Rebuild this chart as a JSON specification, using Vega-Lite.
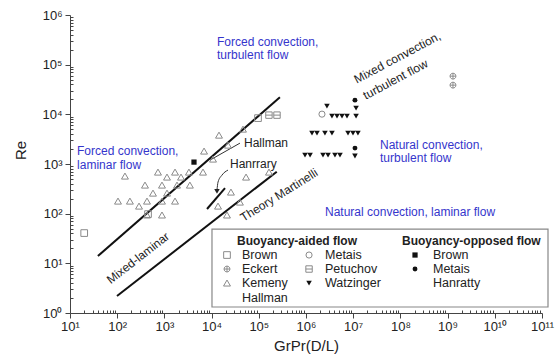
{
  "$schema": "https://vega.github.io/schema/vega-lite/v6.json",
  "width": 472,
  "height": 298,
  "autosize": {"type": "none"},
  "padding": {"left": 70, "top": 15, "right": 15, "bottom": 46},
  "background": "white",
  "config": {
    "view": {"stroke": null},
    "font": "Liberation Sans",
    "text": {"font": "Liberation Sans"}
  },
  "datasets": {
    "pts": [
      {"s": "Kemeny", "x": 146, "y": 571}, {"s": "Kemeny", "x": 731, "y": 687}, {"s": "Kemeny", "x": 1679, "y": 687},
      {"s": "Kemeny", "x": 3311, "y": 687}, {"s": "Kemeny", "x": 6577, "y": 687}, {"s": "Kemeny", "x": 6918, "y": 1820},
      {"s": "Kemeny", "x": 1135, "y": 545}, {"s": "Kemeny", "x": 2250, "y": 545}, {"s": "Kemeny", "x": 388, "y": 376},
      {"s": "Kemeny", "x": 889, "y": 376}, {"s": "Kemeny", "x": 1850, "y": 376}, {"s": "Kemeny", "x": 3467, "y": 376},
      {"s": "Kemeny", "x": 573, "y": 259}, {"s": "Kemeny", "x": 1135, "y": 259}, {"s": "Kemeny", "x": 104, "y": 179},
      {"s": "Kemeny", "x": 186, "y": 179}, {"s": "Kemeny", "x": 290, "y": 142}, {"s": "Kemeny", "x": 428, "y": 179},
      {"s": "Kemeny", "x": 889, "y": 179}, {"s": "Kemeny", "x": 1679, "y": 179}, {"s": "Kemeny", "x": 889, "y": 94},
      {"s": "Kemeny", "x": 428, "y": 94}, {"s": "Kemeny", "x": 14350, "y": 3811}, {"s": "Kemeny", "x": 22230, "y": 2399},
      {"s": "Kemeny", "x": 10720, "y": 1256}, {"s": "Kemeny", "x": 46240, "y": 5035}, {"s": "Kemeny", "x": 53700, "y": 545},
      {"s": "Kemeny", "x": 25700, "y": 272}, {"s": "Kemeny", "x": 13680, "y": 142}, {"s": "Kemeny", "x": 39810, "y": 171},
      {"s": "Kemeny", "x": 21180, "y": 94}, {"s": "Kemeny", "x": 164400, "y": 687},
      {"s": "Brown (aided)", "x": 20, "y": 40.7}, {"s": "Brown (aided)", "x": 450, "y": 98}, {"s": "Brown (aided)", "x": 96200, "y": 8390},
      {"s": "Petuchov", "x": 164000, "y": 9640}, {"s": "Petuchov", "x": 243000, "y": 9640},
      {"s": "Metais (aided)", "x": 2180000, "y": 10090},
      {"s": "Eckert", "x": 1300000000, "y": 58700}, {"s": "Eckert", "x": 1300000000, "y": 38700},
      {"s": "Brown (opposed)", "x": 4236, "y": 1092},
      {"s": "Metais (opposed)", "x": 10900000, "y": 19300}, {"s": "Metais (opposed)", "x": 10900000, "y": 2090},
      {"s": "Watzinger", "x": 2780000, "y": 14620},
      {"s": "Watzinger", "x": 3550000, "y": 9200}, {"s": "Watzinger", "x": 4540000, "y": 9200}, {"s": "Watzinger", "x": 5790000, "y": 9200},
      {"s": "Watzinger", "x": 7390000, "y": 9200}, {"s": "Watzinger", "x": 11500000, "y": 9200}, {"s": "Watzinger", "x": 11500000, "y": 13330},
      {"s": "Watzinger", "x": 1340000, "y": 4190}, {"s": "Watzinger", "x": 1710000, "y": 4190}, {"s": "Watzinger", "x": 2520000, "y": 4190},
      {"s": "Watzinger", "x": 3550000, "y": 4190}, {"s": "Watzinger", "x": 7760000, "y": 4190}, {"s": "Watzinger", "x": 9900000, "y": 4190},
      {"s": "Watzinger", "x": 12600000, "y": 4190},
      {"s": "Watzinger", "x": 953000, "y": 1510}, {"s": "Watzinger", "x": 1220000, "y": 1510}, {"s": "Watzinger", "x": 2290000, "y": 1510},
      {"s": "Watzinger", "x": 2930000, "y": 1510}, {"s": "Watzinger", "x": 4110000, "y": 1510}, {"s": "Watzinger", "x": 5250000, "y": 1510},
      {"s": "Watzinger", "x": 10900000, "y": 1450}
    ],
    "thick": [
      {"line": "upper", "x": 39, "y": 14}, {"line": "upper", "x": 280000, "y": 22000},
      {"line": "lower", "x": 99, "y": 2.2}, {"line": "lower", "x": 240000, "y": 700},
      {"line": "hanratty", "x": 8000, "y": 124}, {"line": "hanratty", "x": 19240, "y": 327}
    ],
    "thin": [
      {"line": "hallman", "x": 9250, "y": 1197}, {"line": "hallman", "x": 39900, "y": 2632},
      {"line": "arrow", "x": 22230, "y": 754}, {"line": "arrow", "x": 16600, "y": 598},
      {"line": "arrow", "x": 13680, "y": 432}, {"line": "arrow", "x": 13000, "y": 298}
    ],
    "arrowhead": [{"x": 13000, "y": 280}],
    "blue": [
      {"text": "Forced convection,", "x": 13000, "y": 283700},
      {"text": "turbulent flow", "x": 13000, "y": 155000},
      {"text": "Forced convection,", "x": 14.1, "y": 1820},
      {"text": "laminar flow", "x": 14.1, "y": 950},
      {"text": "Natural convection,", "x": 37000000, "y": 2400},
      {"text": "turbulent flow", "x": 37000000, "y": 1315},
      {"text": "Natural convection, laminar flow", "x": 2530000, "y": 108}
    ],
    "black": [
      {"text": "Hallman", "x": 48500, "y": 2632},
      {"text": "Hanrrary", "x": 24500, "y": 995}
    ],
    "mixedturb": [
      {"text": "Mixed convection,", "x": 10900000, "y": 48800},
      {"text": "turbulent flow", "x": 16900000, "y": 23200}
    ],
    "mixedlam": [{"text": "Mixed-laminar", "x": 276, "y": 12.8}],
    "theory": [{"text": "Theory Martinelli", "x": 268000, "y": 237}],
    "legbox": [{"x": 10190, "x2": 134000000000, "y": 1.32, "y2": 49}],
    "legsym": [
      {"s": "Brown (aided)", "x": 21200, "y": 14.7},
      {"s": "Eckert", "x": 21200, "y": 7.68},
      {"s": "Kemeny", "x": 21200, "y": 4.01},
      {"s": "Metais (aided)", "x": 1160000, "y": 14.7},
      {"s": "Petuchov", "x": 1160000, "y": 7.68},
      {"s": "Watzinger", "x": 1160000, "y": 4.01},
      {"s": "Brown (opposed)", "x": 204000000, "y": 14.7},
      {"s": "Metais (opposed)", "x": 204000000, "y": 7.68}
    ],
    "legtxt": [
      {"text": "Brown", "x": 44000, "y": 14.7},
      {"text": "Eckert", "x": 44000, "y": 7.68},
      {"text": "Kemeny", "x": 44000, "y": 4.01},
      {"text": "Hallman", "x": 44000, "y": 2.0},
      {"text": "Metais", "x": 2530000, "y": 14.7},
      {"text": "Petuchov", "x": 2530000, "y": 7.68},
      {"text": "Watzinger", "x": 2530000, "y": 4.01},
      {"text": "Brown", "x": 490000000, "y": 14.7},
      {"text": "Metais", "x": 490000000, "y": 7.68},
      {"text": "Hanratty", "x": 490000000, "y": 4.01}
    ],
    "leghead": [
      {"text": "Buoyancy-aided flow", "x": 34500, "y": 28.1},
      {"text": "Buoyancy-opposed flow", "x": 108000000, "y": 28.1}
    ]
  },
  "layer": [
    {
      "data": {"name": "thick"},
      "mark": {"type": "line", "color": "#111", "strokeWidth": 2},
      "encoding": {
        "x": {
          "field": "x", "type": "quantitative",
          "scale": {"type": "log", "domain": [10, 100000000000], "nice": false},
          "axis": {
            "title": "GrPr(D/L)",
            "titleFontSize": 15, "titleFontWeight": "normal", "titleColor": "#222",
            "titleY": 32, "titleBaseline": "middle",
            "grid": false,
            "values": [10,20,30,40,50,60,70,80,90,100,200,300,400,500,600,700,800,900,1000,2000,3000,4000,5000,6000,7000,8000,9000,1e4,2e4,3e4,4e4,5e4,6e4,7e4,8e4,9e4,1e5,2e5,3e5,4e5,5e5,6e5,7e5,8e5,9e5,1e6,2e6,3e6,4e6,5e6,6e6,7e6,8e6,9e6,1e7,2e7,3e7,4e7,5e7,6e7,7e7,8e7,9e7,1e8,2e8,3e8,4e8,5e8,6e8,7e8,8e8,9e8,1e9,2e9,3e9,4e9,5e9,6e9,7e9,8e9,9e9,1e10,2e10,3e10,4e10,5e10,6e10,7e10,8e10,9e10,1e11],
            "labelExpr": "abs(log(datum.value)/LN10 - round(log(datum.value)/LN10)) < 0.001 ? '10' + ['⁰','¹','²','³','⁴','⁵','⁶','⁷','⁸','⁹','¹⁰','¹¹'][round(log(datum.value)/LN10)] : ''",
            "labelFontSize": 13, "labelColor": "#222", "labelPadding": 2,
            "labelOverlap": false, "labelFlush": false, "labelBound": false,
            "tickSize": {"condition": {"test": "abs(log(datum.value)/LN10 - round(log(datum.value)/LN10)) < 0.001", "value": 5}, "value": -3},
            "tickColor": "#444", "domainColor": "#444"
          }
        },
        "y": {
          "field": "y", "type": "quantitative",
          "scale": {"type": "log", "domain": [1, 1000000], "nice": false},
          "axis": {
            "title": "Re",
            "titleFontSize": 15, "titleFontWeight": "normal", "titleColor": "#222",
            "titleX": -50, "titleY": 135, "titleBaseline": "middle", "titleAlign": "center",
            "grid": false,
            "values": [1,2,3,4,5,6,7,8,9,10,20,30,40,50,60,70,80,90,100,200,300,400,500,600,700,800,900,1000,2000,3000,4000,5000,6000,7000,8000,9000,1e4,2e4,3e4,4e4,5e4,6e4,7e4,8e4,9e4,1e5,2e5,3e5,4e5,5e5,6e5,7e5,8e5,9e5,1e6],
            "labelExpr": "abs(log(datum.value)/LN10 - round(log(datum.value)/LN10)) < 0.001 ? '10' + ['⁰','¹','²','³','⁴','⁵','⁶','⁷','⁸','⁹','¹⁰','¹¹'][round(log(datum.value)/LN10)] : ''",
            "labelFontSize": 13, "labelColor": "#222", "labelPadding": 3,
            "labelOverlap": false, "labelFlush": false, "labelBound": false,
            "tickSize": {"condition": {"test": "abs(log(datum.value)/LN10 - round(log(datum.value)/LN10)) < 0.001", "value": 5}, "value": -3},
            "tickColor": "#444", "domainColor": "#444"
          }
        },
        "detail": {"field": "line"}
      }
    },
    {
      "data": {"name": "thin"},
      "mark": {"type": "line", "color": "#333", "strokeWidth": 1, "interpolate": "monotone"},
      "encoding": {
        "x": {"field": "x", "type": "quantitative"},
        "y": {"field": "y", "type": "quantitative"},
        "detail": {"field": "line"}
      }
    },
    {
      "data": {"name": "arrowhead"},
      "mark": {"type": "point", "shape": "triangle-down", "filled": true, "color": "#222", "size": 30, "opacity": 1},
      "encoding": {
        "x": {"field": "x", "type": "quantitative"},
        "y": {"field": "y", "type": "quantitative"}
      }
    },
    {
      "data": {"name": "pts"},
      "transform": [{"filter": "indexof(['Kemeny','Brown (aided)','Petuchov','Metais (aided)','Eckert'], datum.s) >= 0"}],
      "mark": {"type": "point", "filled": false, "color": "#8a8a8a", "strokeWidth": 1, "opacity": 1},
      "encoding": {
        "x": {"field": "x", "type": "quantitative"},
        "y": {"field": "y", "type": "quantitative"},
        "shape": {
          "field": "s", "type": "nominal", "legend": null,
          "scale": {
            "domain": ["Kemeny", "Brown (aided)", "Petuchov", "Metais (aided)", "Eckert", "Watzinger", "Brown (opposed)", "Metais (opposed)"],
            "range": ["triangle-up", "square", "M-1,-1H1V1H-1ZM-1,0H1", "circle", "M-1,0A1,1,0,1,0,1,0A1,1,0,1,0,-1,0ZM-1,0H1M0,-1V1", "triangle-down", "square", "circle"]
          }
        },
        "size": {
          "field": "s", "type": "nominal", "legend": null,
          "scale": {
            "domain": ["Kemeny", "Brown (aided)", "Petuchov", "Metais (aided)", "Eckert", "Watzinger", "Brown (opposed)", "Metais (opposed)"],
            "range": [48, 24, 24, 26, 26, 34, 24, 26]
          }
        }
      }
    },
    {
      "data": {"name": "pts"},
      "transform": [{"filter": "indexof(['Watzinger','Brown (opposed)','Metais (opposed)'], datum.s) >= 0"}],
      "mark": {"type": "point", "filled": true, "color": "#111", "opacity": 1},
      "encoding": {
        "x": {"field": "x", "type": "quantitative"},
        "y": {"field": "y", "type": "quantitative"},
        "shape": {"field": "s", "type": "nominal", "legend": null},
        "size": {"field": "s", "type": "nominal", "legend": null}
      }
    },
    {
      "data": {"name": "blue"},
      "mark": {"type": "text", "align": "left", "baseline": "middle", "fontSize": 12, "color": "#3535cc"},
      "encoding": {
        "x": {"field": "x", "type": "quantitative"},
        "y": {"field": "y", "type": "quantitative"},
        "text": {"field": "text"}
      }
    },
    {
      "data": {"name": "black"},
      "mark": {"type": "text", "align": "left", "baseline": "middle", "fontSize": 12, "color": "#222"},
      "encoding": {
        "x": {"field": "x", "type": "quantitative"},
        "y": {"field": "y", "type": "quantitative"},
        "text": {"field": "text"}
      }
    },
    {
      "data": {"name": "mixedturb"},
      "mark": {"type": "text", "align": "left", "baseline": "middle", "fontSize": 12, "color": "#222", "angle": 332},
      "encoding": {
        "x": {"field": "x", "type": "quantitative"},
        "y": {"field": "y", "type": "quantitative"},
        "text": {"field": "text"}
      }
    },
    {
      "data": {"name": "mixedlam"},
      "mark": {"type": "text", "align": "center", "baseline": "middle", "fontSize": 12, "color": "#222", "angle": 322},
      "encoding": {
        "x": {"field": "x", "type": "quantitative"},
        "y": {"field": "y", "type": "quantitative"},
        "text": {"field": "text"}
      }
    },
    {
      "data": {"name": "theory"},
      "mark": {"type": "text", "align": "center", "baseline": "middle", "fontSize": 12, "color": "#222", "angle": 328},
      "encoding": {
        "x": {"field": "x", "type": "quantitative"},
        "y": {"field": "y", "type": "quantitative"},
        "text": {"field": "text"}
      }
    },
    {
      "data": {"name": "legbox"},
      "mark": {"type": "rect", "fill": "white", "stroke": "#888", "strokeWidth": 1.2},
      "encoding": {
        "x": {"field": "x", "type": "quantitative"},
        "x2": {"field": "x2"},
        "y": {"field": "y", "type": "quantitative"},
        "y2": {"field": "y2"}
      }
    },
    {
      "data": {"name": "legsym"},
      "transform": [{"filter": "indexof(['Kemeny','Brown (aided)','Petuchov','Metais (aided)','Eckert'], datum.s) >= 0"}],
      "mark": {"type": "point", "filled": false, "color": "#8a8a8a", "strokeWidth": 1, "opacity": 1},
      "encoding": {
        "x": {"field": "x", "type": "quantitative"},
        "y": {"field": "y", "type": "quantitative"},
        "shape": {"field": "s", "type": "nominal", "legend": null},
        "size": {"field": "s", "type": "nominal", "legend": null}
      }
    },
    {
      "data": {"name": "legsym"},
      "transform": [{"filter": "indexof(['Watzinger','Brown (opposed)','Metais (opposed)'], datum.s) >= 0"}],
      "mark": {"type": "point", "filled": true, "color": "#111", "opacity": 1},
      "encoding": {
        "x": {"field": "x", "type": "quantitative"},
        "y": {"field": "y", "type": "quantitative"},
        "shape": {"field": "s", "type": "nominal", "legend": null},
        "size": {"field": "s", "type": "nominal", "legend": null}
      }
    },
    {
      "data": {"name": "legtxt"},
      "mark": {"type": "text", "align": "left", "baseline": "middle", "fontSize": 12.5, "color": "#222"},
      "encoding": {
        "x": {"field": "x", "type": "quantitative"},
        "y": {"field": "y", "type": "quantitative"},
        "text": {"field": "text"}
      }
    },
    {
      "data": {"name": "leghead"},
      "mark": {"type": "text", "align": "left", "baseline": "middle", "fontSize": 12, "fontWeight": "bold", "color": "#222"},
      "encoding": {
        "x": {"field": "x", "type": "quantitative"},
        "y": {"field": "y", "type": "quantitative"},
        "text": {"field": "text"}
      }
    }
  ]
}
